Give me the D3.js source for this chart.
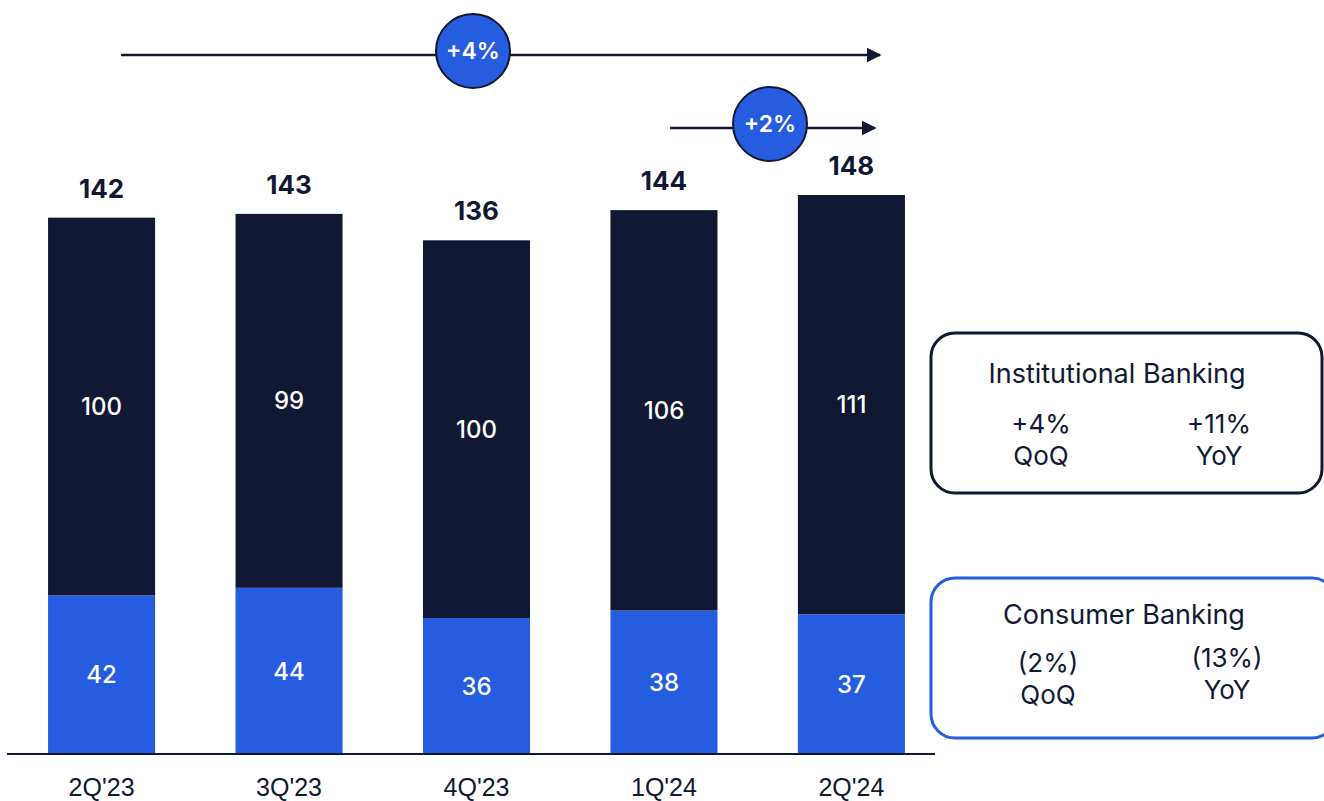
<!DOCTYPE html>
<html>
<head>
<meta charset="utf-8">
<script src="https://cdn.jsdelivr.net/npm/d3@7"></script>
<style>
  body { margin: 0; background: #fff; }
  svg { display: block; font-family: Inter, "Open Sans", sans-serif; }
</style>
</head>
<body>
<div id="canvas"></div>
<script>
const quarters = ["2Q'23", "3Q'23", "4Q'23", "1Q'24", "2Q'24"];
const consumer = [42, 44, 36, 38, 37];
const institutional = [100, 99, 100, 106, 111];
const totals = [142, 143, 136, 144, 148];

const navy = '#111833';
const blue = '#255ce0';

const w = 1324;
const h = 801;
const baseY = 754;

const rows = quarters.map((q, i) => ({ q: q, consumer: consumer[i], institutional: institutional[i], total: totals[i] }));
const stack = d3.stack().keys(['consumer', 'institutional'])(rows);

const xScale = d3.scaleBand()
  .domain(quarters)
  .range([7, 946])
  .paddingInner(0.429)
  .paddingOuter(0.219);

const yScale = d3.scaleLinear()
  .domain([0, 148])
  .range([baseY, 195]);

const svg = d3.select('#canvas')
  .append('svg')
  .attr('width', w)
  .attr('height', h);

const colors = { consumer: blue, institutional: navy };

// stacked bars
const layers = svg.selectAll('g.layer')
  .data(stack)
  .enter()
  .append('g')
  .attr('class', 'layer')
  .attr('fill', (d) => colors[d.key]);

layers.selectAll('rect')
  .data((d) => d)
  .enter()
  .append('rect')
  .attr('x', (d) => xScale(d.data.q))
  .attr('y', (d) => yScale(d[1]))
  .attr('width', xScale.bandwidth())
  .attr('height', (d) => yScale(d[0]) - yScale(d[1]));

// segment labels
layers.selectAll('text')
  .data((d) => d.map((s) => ({ s: s, key: d.key })))
  .enter()
  .append('text')
  .attr('x', (d) => xScale(d.s.data.q) + xScale.bandwidth() / 2)
  .attr('y', (d) => (yScale(d.s[0]) + yScale(d.s[1])) / 2)
  .attr('dy', '0.36em')
  .attr('text-anchor', 'middle')
  .attr('fill', '#fff')
  .style('font-size', '24px')
  .style('font-weight', 500)
  .text((d) => d.s.data[d.key]);

// totals
svg.selectAll('text.total')
  .data(rows)
  .enter()
  .append('text')
  .attr('class', 'total')
  .attr('x', (d) => xScale(d.q) + xScale.bandwidth() / 2)
  .attr('y', (d) => yScale(d.total) - 20)
  .attr('text-anchor', 'middle')
  .attr('fill', navy)
  .style('font-size', '26px')
  .style('font-weight', 700)
  .text((d) => d.total);

// x axis
const xAxis = d3.axisBottom(xScale).tickSize(0).tickSizeOuter(0).tickPadding(24);
const gx = svg.append('g')
  .attr('transform', 'translate(0, ' + baseY + ')')
  .call(xAxis);
gx.select('.domain')
  .attr('d', 'M' + xScale.range()[0] + ',0H935')
  .attr('stroke', navy)
  .attr('stroke-width', 2);
gx.selectAll('text')
  .attr('fill', navy)
  .style('font-family', '"Liberation Sans Narrow", "Arial Narrow", sans-serif')
  .style('font-size', '25px');

// growth arrows
const arrows = [
  { y: 55, x1: 121, x2: 880, cx: 473, label: '+4%' },
  { y: 128, x1: 670, x2: 875, cx: 770, label: '+2%' }
];

svg.append('defs').append('marker')
  .attr('id', 'head')
  .attr('viewBox', '0 0 10 10')
  .attr('refX', 9)
  .attr('refY', 5)
  .attr('markerWidth', 6)
  .attr('markerHeight', 6)
  .attr('markerUnits', 'strokeWidth')
  .attr('orient', 'auto')
  .append('path')
  .attr('d', 'M0,0 L10,5 L0,10 Z')
  .attr('fill', navy);

arrows.forEach((a) => {
  svg.append('line')
    .attr('x1', a.x1).attr('x2', a.x2)
    .attr('y1', a.y).attr('y2', a.y)
    .attr('stroke', navy)
    .attr('stroke-width', 2.5)
    .attr('marker-end', 'url(#head)');
  svg.append('circle')
    .attr('cx', a.cx)
    .attr('cy', a.y - 4)
    .attr('r', 37)
    .attr('fill', blue)
    .attr('stroke', navy)
    .attr('stroke-width', 2);
  svg.append('text')
    .attr('x', a.cx)
    .attr('y', a.y - 4)
    .attr('dy', '0.36em')
    .attr('text-anchor', 'middle')
    .attr('fill', '#fff')
    .style('font-size', '23px')
    .style('font-weight', 600)
    .text(a.label);
});

// legend boxes
const boxes = [
  { title: 'Institutional Banking', stroke: navy, y: 333, x: 931, bw: 391, bh: 160, tx: 1117,
    left: ['+4%', 'QoQ'], right: ['+11%', 'YoY'], lx: 1041, rx: 1219, ly: 424, ry: 424, ty: 373 },
  { title: 'Consumer Banking', stroke: blue, y: 578, x: 931, bw: 405, bh: 160, tx: 1124,
    left: ['(2%)', 'QoQ'], right: ['(13%)', 'YoY'], lx: 1048, rx: 1227, ly: 663, ry: 658, ty: 614 }
];

boxes.forEach((b) => {
  const g = svg.append('g');
  g.append('rect')
    .attr('x', b.x).attr('y', b.y)
    .attr('width', b.bw).attr('height', b.bh)
    .attr('rx', 24).attr('ry', 24)
    .attr('fill', 'none')
    .attr('stroke', b.stroke)
    .attr('stroke-width', 3);
  g.append('text')
    .attr('x', b.tx)
    .attr('y', b.ty)
    .attr('dy', '0.36em')
    .attr('text-anchor', 'middle')
    .attr('fill', navy)
    .style('font-size', '27px')
    .text(b.title);
  [[b.lx, b.ly, b.left], [b.rx, b.ry, b.right]].forEach((c) => {
    c[2].forEach((t, i) => {
      g.append('text')
        .attr('x', c[0])
        .attr('y', c[1] + i * 32)
        .attr('dy', '0.36em')
        .attr('text-anchor', 'middle')
        .attr('fill', navy)
        .style('font-size', '26px')
        .text(t);
    });
  });
});
</script>
</body>
</html>
